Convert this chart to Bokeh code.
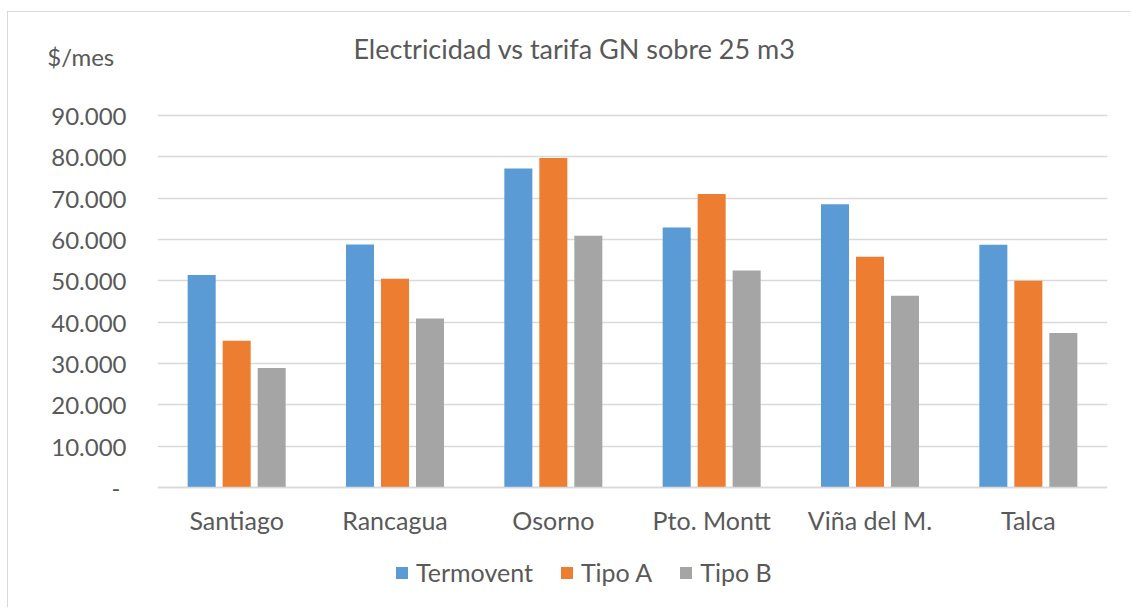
from bokeh.plotting import figure
from bokeh.models import ColumnDataSource, Range1d, FactorRange, Legend, LegendItem, Label, CustomJSTickFormatter, FixedTicker
from bokeh.transform import dodge
from bokeh.embed import file_html
from bokeh.resources import INLINE

cities = ["Santiago", "Rancagua", "Osorno", "Pto. Montt", "Viña del M.", "Talca"]
termovent = [51400, 58800, 77200, 62900, 68500, 58700]
tipo_a = [35500, 50500, 79700, 71000, 55800, 50000]
tipo_b = [28900, 40900, 60900, 52500, 46400, 37400]
series_names = ["Termovent", "Tipo A", "Tipo B"]
y_ticks = [0, 10000, 20000, 30000, 40000, 50000, 60000, 70000, 80000, 90000]
title_text = "Electricidad vs tarifa GN sobre 25 m3"
y_unit = "$/mes"

colors = ["#5B9BD5", "#ED7D31", "#A5A5A5"]
FONT = "Lato"
TXT = "#595959"

# layout (page pixels)
CANVAS_X, CANVAS_Y = 8, 12
FRAME_L, FRAME_R, FRAME_T, FRAME_B = 157, 1107, 24, 604
ZERO_Y = 487
PX_PER_90K = 372.0
W, H = 1131 - CANVAS_X, 608 - CANVAS_Y
y_end = 90000 * (ZERO_Y - FRAME_T) / PX_PER_90K
y_start = -90000 * (FRAME_B - ZERO_Y) / PX_PER_90K
unit_tick = 90000 * (ZERO_Y - 56) / PX_PER_90K

src = ColumnDataSource(dict(city=cities, t=termovent, a=tipo_a, b=tipo_b))

p = figure(width=W, height=H, x_range=FactorRange(*cities, range_padding=0),
           y_range=Range1d(y_start, y_end), output_backend="svg", toolbar_location=None,
           min_border_left=FRAME_L - CANVAS_X, min_border_right=1131 - FRAME_R,
           min_border_top=FRAME_T - CANVAS_Y, min_border_bottom=608 - FRAME_B)
p.styles = {"margin-left": "7px", "margin-top": "11px",
            "border-left": "1px solid #D9D9D9", "border-top": "1px solid #D9D9D9"}
p.outline_line_color = None
p.background_fill_color = "white"
p.border_fill_color = "white"

w = 0.177
off = 0.221
renderers = []
for i, (col, c) in enumerate(zip(["t", "a", "b"], colors)):
    r = p.vbar(x=dodge("city", (i - 1) * off, range=p.x_range), top=col, width=w,
               source=src, fill_color=c, line_color=None)
    renderers.append(r)

# y axis: value ticks plus the unit label as top tick
p.yaxis.ticker = FixedTicker(ticks=y_ticks + [unit_tick])
p.yaxis.formatter = CustomJSTickFormatter(args=dict(unit=y_unit), code="""
if (tick > 95000) { return unit + "\u00a0\u00a0"; }
if (tick == 0) { return "-\u00a0"; }
return Math.round(tick).toString().replace(/\\B(?=(\\d{3})+(?!\\d))/g, ".");
""")
p.yaxis.axis_line_color = None
p.yaxis.major_tick_line_color = None
p.yaxis.minor_tick_line_color = None
p.yaxis.major_label_standoff = 25
p.yaxis.major_label_text_font = FONT
p.yaxis.major_label_text_font_size = "24px"
p.yaxis.major_label_text_color = TXT

p.xaxis.fixed_location = 0
p.xaxis.axis_line_color = "#D9D9D9"
p.xaxis.axis_line_width = 1.5
p.xaxis.major_tick_line_color = None
p.xaxis.minor_tick_line_color = None
p.xaxis.major_label_standoff = 11
p.xaxis.major_label_text_font = FONT
p.xaxis.major_label_text_font_size = "25px"
p.xaxis.major_label_text_color = TXT

p.xgrid.grid_line_color = None
p.ygrid.ticker = FixedTicker(ticks=y_ticks)
p.ygrid.grid_line_color = "#D9D9D9"
p.ygrid.grid_line_width = 1.5

title = Label(x=574 - FRAME_L, y=FRAME_B - 48, x_units="screen", y_units="screen", text=title_text,
              text_align="center", text_baseline="alphabetic", text_font=FONT,
              text_font_size="27px", text_color=TXT)
p.add_layout(title)

legend = Legend(items=[LegendItem(label=n, renderers=[r]) for n, r in zip(series_names, renderers)],
                orientation="horizontal", location=(237, 17),
                glyph_width=15, glyph_height=15, label_standoff=7, spacing=26,
                padding=0, margin=0, border_line_color=None, background_fill_alpha=0,
                label_text_font=FONT, label_text_font_size="25px", label_text_color=TXT)
p.add_layout(legend)

open("out.html", "w").write(file_html(p, INLINE))
